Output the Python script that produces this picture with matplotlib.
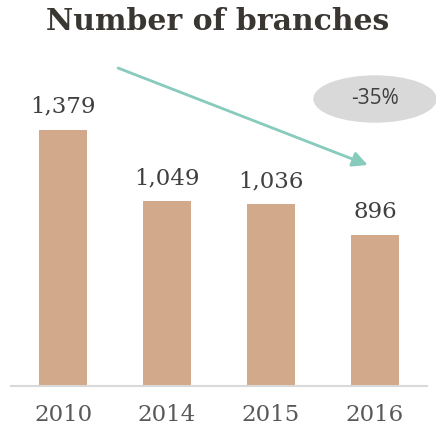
import matplotlib.pyplot as plt
from matplotlib.patches import Ellipse

years = ['2010', '2014', '2015', '2016']
branches = [1379, 1049, 1036, 896]

bar_color = '#d2a98a'
arrow_color = '#86cbbb'
serif = 'DejaVu Serif'

fig = plt.figure(figsize=(4.36, 4.34), dpi=100)
ax = fig.add_axes([11 / 436, 48 / 434, 416 / 436, 326 / 434])

x = range(len(years))
ax.bar(x, branches, width=0.46, color=bar_color)
ax.set_xlim(-0.5, 3.5)
ax.set_ylim(200, 1700)

for i, v in zip(x, branches):
    ax.text(i, v + 55, f'{v:,}', ha='center', va='bottom',
            family=serif, fontsize=16.5, color='#404040')

ax.set_xticks(list(x))
ax.set_xticklabels(years, family=serif, fontsize=16.5, color='#595959')
ax.tick_params(axis='x', length=0, pad=13)
ax.set_yticks([])
for side in ['top', 'right', 'left']:
    ax.spines[side].set_visible(False)
ax.spines['bottom'].set_color('#d9d9d9')
ax.spines['bottom'].set_linewidth(1.5)

# trend arrow
ax.annotate('', xy=(2.93, 1217), xytext=(0.53, 1663),
            arrowprops=dict(arrowstyle='-|>,head_length=0.9,head_width=0.45',
                            color=arrow_color, lw=2, shrinkA=0, shrinkB=0),
            annotation_clip=False)

# change badge
change = (branches[-1] - branches[0]) / branches[0] * 100
badge = Ellipse((375 / 436, 1 - 99 / 434), 122 / 436, 46 / 434,
                transform=fig.transFigure, color='#d9d9d9', zorder=1)
fig.patches.append(badge)
fig.text(375 / 436, 1 - 99 / 434, f'{change:.0f}%', ha='center', va='center',
         family='Open Sans', fontsize=15, color='#404040', zorder=2)

fig.text(0.5, 1 - 22 / 434, 'Number of branches', ha='center', va='center',
         family=serif, fontweight='bold', fontsize=21.5, color='#3a3632')

fig.savefig('out.png', dpi=100)
